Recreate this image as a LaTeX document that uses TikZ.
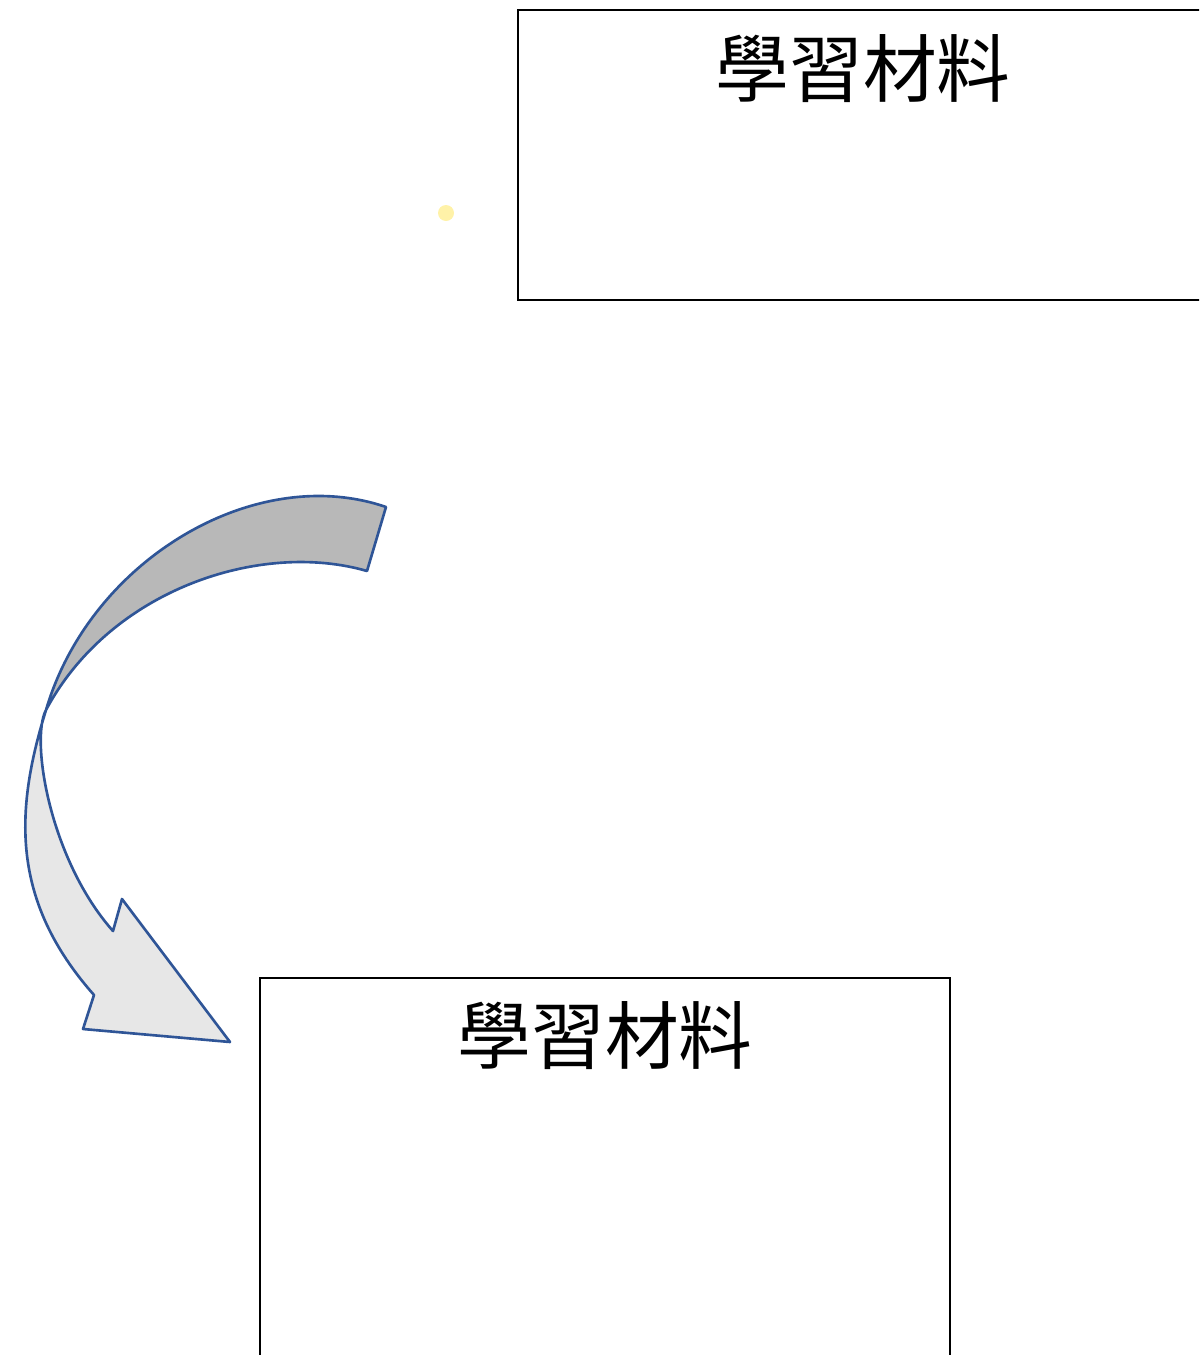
\documentclass[tikz,border=0pt]{standalone}
\usepackage{fontspec}
\newfontfamily\cjk{Noto Sans CJK TC}
\usetikzlibrary{positioning}
\definecolor{arrow_line}{RGB}{47, 85, 151}
\definecolor{arrow_back}{RGB}{184, 184, 184}
\definecolor{arrow_front}{RGB}{231, 231, 231}
\definecolor{dot_yellow}{RGB}{255, 242, 168}

\begin{document}
\begin{tikzpicture}[x=0.1mm, y=-0.1mm,
        box/.style={draw=black, line width=0.6pt, minimum width=6.9cm,
                    minimum height=2.9cm, inner sep=0pt},
        boxtitle/.style={font=\cjk\fontsize{21pt}{25pt}\selectfont, inner sep=0pt},
        ribbon/.style={draw=arrow_line, line width=0.75pt, line join=round},
      ]
        \clip (0,0) rectangle (1199,1355);

        % two boxes with the same title
        \node[box] (upper) at (863, 155) {};
        \node[boxtitle] (upper title) at ([yshift=-0.6cm]upper.north) {學習材料};

        \node[box, minimum height=4.4cm] (lower) at (605, 1198) {};
        \node[boxtitle] (lower title) at ([yshift=-0.59cm]lower.north) {學習材料};

        \node[circle, fill=dot_yellow, minimum size=1.6mm, inner sep=0pt] (dot) at (446, 213) {};

        % twisted curved arrow
        \coordinate (twist) at (46, 710);
        \fill[arrow_back] (386, 507) .. controls (255, 462) and (90, 560) .. (twist)
          .. controls (110, 590) and (260, 540) .. (367, 571) -- cycle;
        \fill[arrow_front] (twist) .. controls (15, 810) and (10, 900) .. (94, 995)
          -- (83, 1029) -- (230, 1042) -- (122, 899) -- (113, 931)
          .. controls (50, 860) and (30, 740) .. (twist) -- cycle;
        \draw[ribbon] (386, 507) .. controls (255, 462) and (90, 560) .. (twist)
          .. controls (15, 810) and (10, 900) .. (94, 995)
          -- (83, 1029) -- (230, 1042) -- (122, 899) -- (113, 931)
          .. controls (50, 860) and (30, 740) .. (twist)
          .. controls (110, 590) and (260, 540) .. (367, 571) -- cycle;
      \end{tikzpicture}
\end{document}
